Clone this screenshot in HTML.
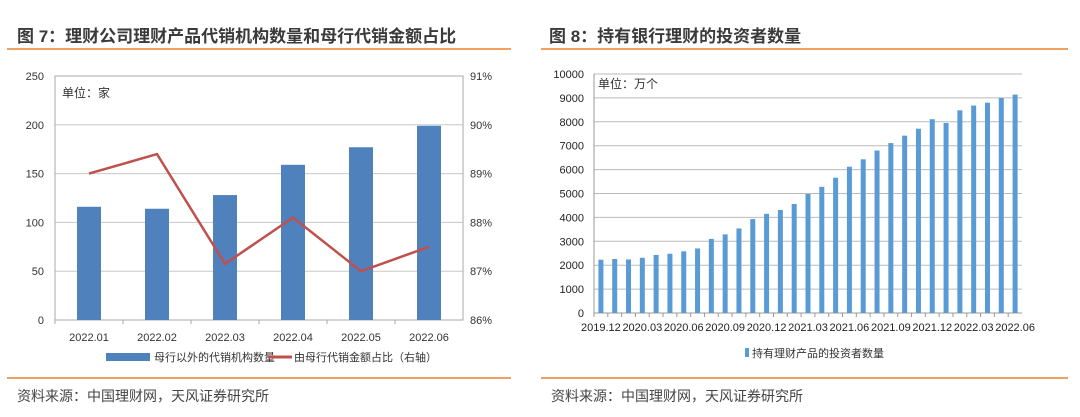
<!DOCTYPE html>
<html><head><meta charset="utf-8"><style>
body{margin:0;background:#fff;width:1080px;height:417px;overflow:hidden;font-family:"Liberation Sans","Noto Sans CJK SC",sans-serif}
.t{position:absolute;font-weight:bold;font-size:17px;color:#3a3a3a}
.ln{position:absolute;height:2px;background:#f0a060}
.src{position:absolute;font-size:14px;color:#444}
svg{position:absolute;left:0;top:0}
</style></head><body>
<div class="t" style="left:17px;top:22px">图 7：理财公司理财产品代销机构数量和母行代销金额占比</div>
<div class="t" style="left:549px;top:22px">图 8：持有银行理财的投资者数量</div>
<div class="ln" style="left:7px;top:48px;width:504px"></div>
<div class="ln" style="left:541px;top:48px;width:527px"></div>
<div class="ln" style="left:7px;top:377px;width:504px"></div>
<div class="ln" style="left:541px;top:377px;width:527px"></div>
<div class="src" style="left:17px;top:386px">资料来源：中国理财网，天风证券研究所</div>
<div class="src" style="left:551px;top:386px">资料来源：中国理财网，天风证券研究所</div>
<svg id="s" width="1080" height="417"></svg>
<script>
const leftCats=["2022.01","2022.02","2022.03","2022.04","2022.05","2022.06"];
const leftBars=[116,114,128,159,177,199];
const leftLine=[89.0,89.4,87.15,88.1,87.0,87.5];
const leftTicks=[0,50,100,150,200,250];
const rightTicks=["86%","87%","88%","89%","90%","91%"];
const rCats=["2019.12","2020.01","2020.02","2020.03","2020.04","2020.05","2020.06","2020.07","2020.08","2020.09","2020.10","2020.11","2020.12","2021.01","2021.02","2021.03","2021.04","2021.05","2021.06","2021.07","2021.08","2021.09","2021.10","2021.11","2021.12","2022.01","2022.02","2022.03","2022.04","2022.05","2022.06"];
const rVals=[2230,2260,2240,2310,2430,2480,2580,2700,3100,3290,3540,3930,4150,4310,4560,4980,5280,5660,6120,6430,6800,7110,7420,7710,8110,7950,8480,8680,8800,9000,9140];
const rTicks=[0,1000,2000,3000,4000,5000,6000,7000,8000,9000,10000];
const S=document.getElementById('s'),NS='http://www.w3.org/2000/svg';
function mk(t,a,txt){const e=document.createElementNS(NS,t);for(const k in a)e.setAttribute(k,a[k]);if(txt!=null)e.textContent=txt;S.appendChild(e);return e;}
// left chart
const L={x0:55,x1:463,y0:320,y1:76};
const ly=v=>L.y0-(v/250)*(L.y0-L.y1);
const ry=v=>L.y0-((v-86)/5)*(L.y0-L.y1);
const bw=(L.x1-L.x0)/leftCats.length;
const lx=i=>L.x0+bw*(i+0.5);
leftTicks.forEach((v,i)=>{const y=ly(v);
 if(v>0){const g=mk('line',{x1:L.x0,x2:L.x1,y1:y,y2:y,stroke:'#c8c8c8','stroke-width':1});}
 const t=mk('text',{x:44,y:y+4,'text-anchor':'end','font-size':11,fill:'#333'},v);
 const r=mk('text',{x:470,y:y+4,'font-size':11,fill:'#333'},rightTicks[i]);});
mk('rect',{x:L.x0,y:L.y1,width:L.x1-L.x0,height:L.y0-L.y1,fill:'none',stroke:'#aaa'});
leftCats.forEach((c,i)=>{
 const b=mk('rect',{x:lx(i)-12,y:ly(leftBars[i]),width:24,height:L.y0-ly(leftBars[i]),fill:'#4f81bd'});
 
 const t=mk('text',{x:lx(i),y:341,'text-anchor':'middle','font-size':11,fill:'#333'},c);
 
 mk('line',{x1:L.x0+bw*i,x2:L.x0+bw*i,y1:L.y0,y2:L.y0+4,stroke:'#aaa'});});
const pl=mk('polyline',{points:leftLine.map((v,i)=>lx(i)+','+ry(v)).join(' '),fill:'none',stroke:'#c0504d','stroke-width':2.5});

let u=mk('text',{x:62,y:97,'font-size':12,fill:'#333'},'单位：家');
mk('rect',{x:106,y:353,width:44,height:8,fill:'#4f81bd'});
let lg=mk('text',{x:154,y:361,'font-size':11,fill:'#333'},'母行以外的代销机构数量');
mk('line',{x1:268,x2:292,y1:357,y2:357,stroke:'#c0504d','stroke-width':3});
lg=mk('text',{x:294,y:361,'font-size':11,fill:'#333'},'由母行代销金额占比（右轴）');
// right chart
const R={x0:594,x1:1022,y0:313,y1:74};
const yy=v=>R.y0-(v/10000)*(R.y0-R.y1);
const rbw=(R.x1-R.x0)/rCats.length;
const rx=i=>R.x0+rbw*(i+0.5);
rTicks.forEach(v=>{const y=yy(v);
 if(v>0){const g=mk('line',{x1:R.x0,x2:R.x1,y1:y,y2:y,stroke:'#bbb'});}
 const t=mk('text',{x:584,y:y+4,'text-anchor':'end','font-size':11,fill:'#222'},v);});
mk('line',{x1:R.x0,x2:R.x0,y1:R.y1,y2:R.y0,stroke:'#999'});
mk('line',{x1:R.x0,x2:R.x1,y1:R.y0,y2:R.y0,stroke:'#999'});
rCats.forEach((c,i)=>{
 const b=mk('rect',{x:rx(i)-2.5,y:yy(rVals[i]),width:5,height:R.y0-yy(rVals[i]),fill:'#5b9bd5'});
 
 mk('line',{x1:R.x0+rbw*i,x2:R.x0+rbw*i,y1:R.y0,y2:R.y0+4,stroke:'#999'});
 if(i%3===0){const t=mk('text',{x:rx(i),y:331,'text-anchor':'middle','font-size':11,fill:'#222'},c);}});
u=mk('text',{x:598,y:88,'font-size':12,fill:'#333'},'单位：万个');
mk('rect',{x:745,y:348,width:4,height:9,fill:'#5b9bd5'});
lg=mk('text',{x:752,y:357,'font-size':11,fill:'#333'},'持有理财产品的投资者数量');
</script>
</body></html>
